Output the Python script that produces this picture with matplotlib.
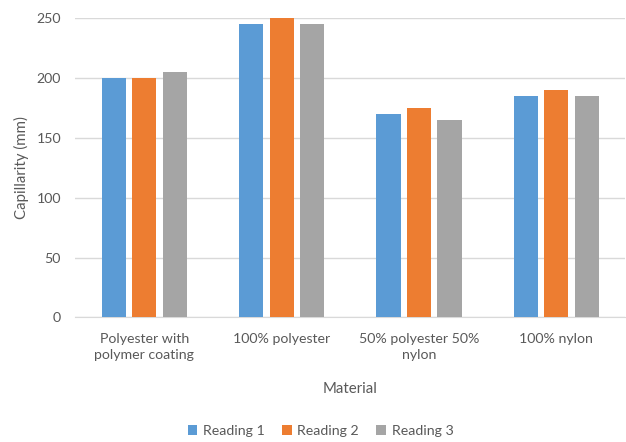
import matplotlib.pyplot as plt
import numpy as np

materials = ["Polyester with\npolymer coating", "100% polyester", "50% polyester 50%\nnylon", "100% nylon"]
reading1 = [200, 245, 170, 185]
reading2 = [200, 250, 175, 190]
reading3 = [205, 245, 165, 185]
series = ["Reading 1", "Reading 2", "Reading 3"]
colors = ["#5B9BD5", "#ED7D31", "#A5A5A5"]

plt.rcParams['font.family'] = ['Lato', 'DejaVu Sans']
txt = "#595959"

fig = plt.figure(figsize=(6.26, 4.42), dpi=100)
ax = fig.add_axes([0.1206, 0.2817, 0.878, 0.6776])

x = np.arange(len(materials))
w = 0.175
step = 0.222
for i, (vals, name, c) in enumerate(zip([reading1, reading2, reading3], series, colors)):
    ax.bar(x + (i - 1) * step, vals, width=w, color=c, label=name, zorder=3)

ax.set_xlim(-0.5, len(materials) - 0.5)
ax.set_ylim(0, 250)
ax.set_yticks(np.arange(0, 251, 50))
ax.yaxis.grid(True, color="#D9D9D9", linewidth=1, zorder=0)
ax.set_xticks(x)
ax.set_xticklabels(materials, color=txt, fontsize=10.2, linespacing=1.45)
ax.tick_params(axis='y', labelcolor=txt, labelsize=10.2, length=0, pad=10.5)
ax.tick_params(axis='x', length=0, pad=11)
for s in ["top", "right", "left"]:
    ax.spines[s].set_visible(False)
ax.spines["bottom"].set_color("#D9D9D9")

ax.set_ylabel("Capillarity (mm)", color=txt, fontsize=10.8)
ax.yaxis.set_label_coords(-0.085, 0.5)
ax.set_xlabel("Material", color=txt, fontsize=10.8, labelpad=15)

leg = fig.legend(loc="center", bbox_to_anchor=(0.512, 0.025), ncol=3, frameon=False,
                 fontsize=10.2, handlelength=0.7, handleheight=0.7, handletextpad=0.4,
                 columnspacing=1.2)
for t in leg.get_texts():
    t.set_color(txt)

fig.savefig("out.png", dpi=100)
